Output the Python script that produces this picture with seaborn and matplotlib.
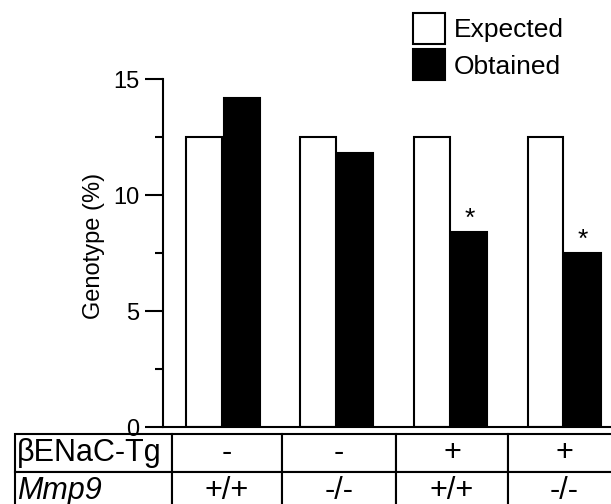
import numpy as np
import pandas as pd
import matplotlib.pyplot as plt
import seaborn as sns

groups = ["g1", "g2", "g3", "g4"]
expected = [12.5, 12.5, 12.5, 12.5]
obtained = [14.2, 11.8, 8.4, 7.5]
significant = [False, False, True, True]
enac_row = ["βENaC-Tg", "-", "-", "+", "+"]
mmp9_row = ["Mmp9", "+/+", "-/-", "+/+", "-/-"]

df = pd.DataFrame({
    "group": groups * 2,
    "type": ["Expected"] * 4 + ["Obtained"] * 4,
    "value": expected + obtained,
})

sns.set_style("ticks")
plt.rcParams["font.family"] = ["Liberation Sans", "DejaVu Sans"]
plt.rcParams["text.color"] = "black"
plt.rcParams["axes.labelcolor"] = "black"
plt.rcParams["ytick.color"] = "black"
plt.rcParams["axes.edgecolor"] = "black"

fig = plt.figure(figsize=(6.11, 5.04), dpi=100)
ax = fig.add_axes([163 / 611, 1 - 427 / 504, 448 / 611, 348 / 504])

sns.barplot(data=df, x="group", y="value", hue="type", order=groups,
            palette=["white", "black"], edgecolor="black", linewidth=1.5,
            width=0.66, gap=0.05, ax=ax)

ax.set_xlim(-0.527, 3.41)
ax.set_ylim(0, 15)
ax.set_yticks([0, 5, 10, 15])
ax.set_yticks(np.arange(0, 15, 2.5), minor=True)
ax.tick_params(axis="y", which="major", length=13, width=1.5, labelsize=17, pad=4)
ax.tick_params(axis="y", which="minor", length=6, width=1.5)
ax.tick_params(axis="x", bottom=False, labelbottom=False)
ax.set_xlabel("")
ax.set_ylabel("Genotype (%)", fontsize=17)
ax.yaxis.set_label_coords(-0.13, 0.52)
sns.despine(ax=ax)
for s in ["left", "bottom"]:
    ax.spines[s].set_linewidth(1.5)

# significance stars on obtained bars
for bar, sig in zip(ax.containers[1], significant):
    if sig:
        ax.annotate("*", (bar.get_x() + bar.get_width() / 2, bar.get_height()),
                    xytext=(0, 1), textcoords="offset points",
                    ha="center", va="bottom", fontsize=19, annotation_clip=False)

sns.move_legend(ax, "upper left", bbox_to_anchor=(413 / 611, 1 - 13 / 504),
                bbox_transform=fig.transFigure, frameon=False, title=None,
                fontsize=19, borderpad=0, borderaxespad=0, handlelength=1.2,
                handleheight=1.43, labelspacing=0.2, handletextpad=0.35)
for h in ax.get_legend().get_patches():
    h.set_edgecolor("black")
    h.set_linewidth(1.5)

# genotype table below the axis
tbl = ax.table(cellText=[enac_row, mmp9_row], cellLoc="center",
               colWidths=[157, 110, 114, 112, 113],
               bbox=[(15 - 163) / 448, (427 - 510) / 348, 606 / 448, 76 / 348])
tbl.auto_set_font_size(False)
tbl.set_fontsize(22)
for (r, c), cell in tbl.get_celld().items():
    cell.set_linewidth(1.5)
    cell.set_edgecolor("black")
    if c == 0:
        cell.PAD = 0.01
        cell.get_text().set_ha("left")
        cell._loc = "left"
    if r == 1 and c == 0:
        cell.get_text().set_style("italic")

fig.savefig("out.png", dpi=100)
